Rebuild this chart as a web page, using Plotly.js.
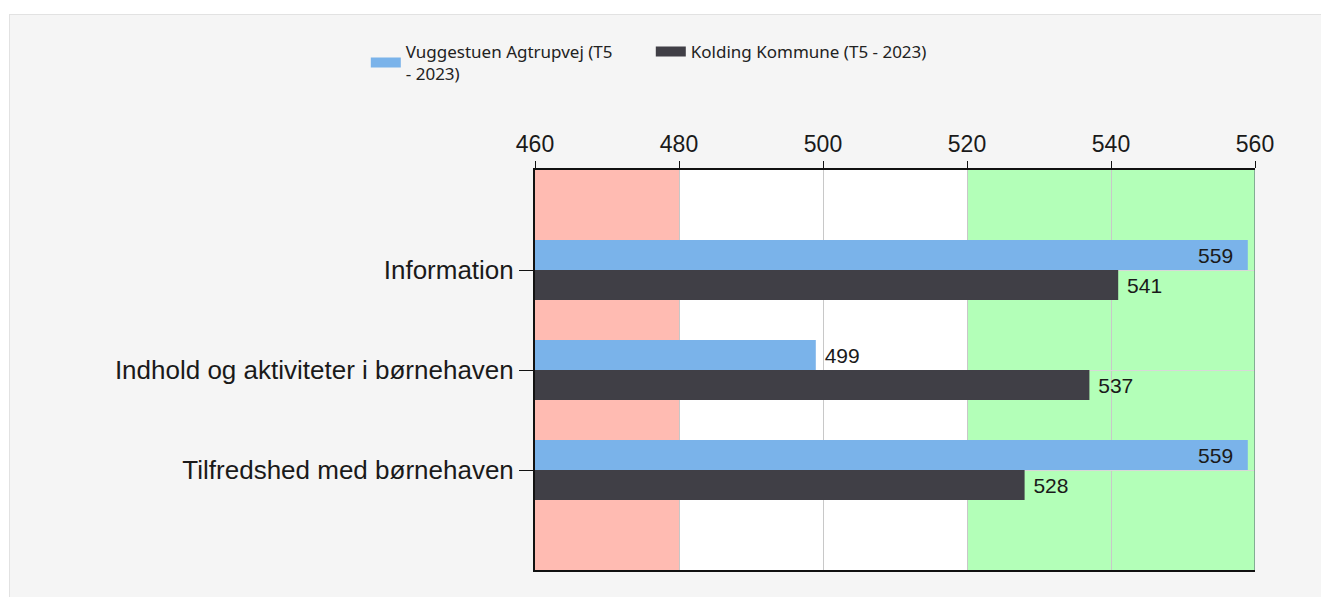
<!DOCTYPE html>
<html>
<head>
<meta charset="utf-8">
<script src="https://cdn.plot.ly/plotly-3.0.1.min.js"></script>
<style>
html,body{margin:0;padding:0;background:#fff;}
#panel{position:absolute;left:9px;top:14px;width:1312px;height:583px;background:#f5f5f5;border-left:1px solid #e2e2e2;border-top:1px solid #e2e2e2;box-sizing:border-box;}
#chart{position:absolute;left:0;top:0;width:1321px;height:597px;}
</style>
</head>
<body>
<div id="panel"></div>
<div id="chart"></div>
<script>
const categories = ["Information", "Indhold og aktiviteter i børnehaven", "Tilfredshed med børnehaven"];
const seriesNames = ["Vuggestuen Agtrupvej (T5<br>- 2023)", "Kolding Kommune (T5 - 2023)"];
const seriesColors = ["#7ab3ea", "#403f46"];
const vuggestuen = [559, 499, 559];
const kolding = [541, 537, 528];
const vugPositions = ["inside", "outside", "inside"];
const xTicks = [460, 480, 500, 520, 540, 560];
const redBand = [460, 480];
const greenBand = [520, 560];

const NB = "\u00a0";
const labelFont = {family: "Liberation Sans, Arial", size: 21, color: "#1a1a1a"};

function labelText(vals, positions) {
  return vals.map((v, i) => positions[i] === "inside" ? String(v) + NB + NB : NB + String(v));
}

const traces = [
  {
    type: "bar", orientation: "h", name: seriesNames[0], showlegend: false,
    y: categories, x: vuggestuen,
    marker: {color: seriesColors[0]},
    text: labelText(vuggestuen, vugPositions),
    textposition: vugPositions,
    insidetextanchor: "end",
    textfont: labelFont, outsidetextfont: labelFont, insidetextfont: labelFont,
    constraintext: "none",
    cliponaxis: false
  },
  {
    type: "bar", orientation: "h", name: seriesNames[1], showlegend: false,
    y: categories, x: kolding,
    marker: {color: seriesColors[1]},
    text: labelText(kolding, ["outside", "outside", "outside"]),
    textposition: "outside",
    textfont: labelFont, outsidetextfont: labelFont,
    constraintext: "none",
    cliponaxis: false
  },
  {
    type: "scatter", mode: "lines", name: seriesNames[0], x: [null], y: [null],
    line: {color: seriesColors[0], width: 16}, hoverinfo: "skip"
  },
  {
    type: "scatter", mode: "lines", name: seriesNames[1], x: [null], y: [null],
    line: {color: seriesColors[1], width: 16}, hoverinfo: "skip"
  }
];

const layout = {
  width: 1321, height: 597,
  paper_bgcolor: "rgba(0,0,0,0)",
  plot_bgcolor: "#ffffff",
  margin: {l: 535, r: 66, t: 170, b: 27},
  barmode: "group",
  bargap: 0.4,
  bargroupgap: 0,
  showlegend: true,
  legend: {
    orientation: "h", x: -0.235, y: 1.34, xanchor: "left", yanchor: "top",
    font: {family: "Noto Sans, Open Sans", size: 17, color: "#222"},
    bgcolor: "rgba(0,0,0,0)", traceorder: "normal",
    entrywidth: 240, entrywidthmode: "pixels", itemwidth: 30
  },
  xaxis: {
    side: "top", range: [460, 560], tickvals: xTicks, ticktext: xTicks.map(String),
    showgrid: true, gridcolor: "#c8c8c8", gridwidth: 1,
    zeroline: false,
    showline: true, linecolor: "#111", linewidth: 2, mirror: true,
    ticks: "outside", ticklen: 7, tickcolor: "#111", tickwidth: 1,
    tickfont: {family: "Liberation Sans, Arial", size: 23, color: "#1a1a1a"}
  },
  yaxis: {
    type: "category", autorange: false, range: [3, -1],
    showgrid: true, gridcolor: "#d8d8d8", gridwidth: 1,
    showline: true, linecolor: "#111", linewidth: 2, mirror: false,
    ticks: "outside", ticklen: 14, tickcolor: "#111",
    tickfont: {family: "Liberation Sans, Arial", size: 26, color: "#1a1a1a"}
  },
  shapes: [
    {type: "rect", layer: "below", xref: "x", yref: "paper", x0: redBand[0], x1: redBand[1], y0: 0, y1: 1,
     fillcolor: "#ffbbb2", line: {width: 0}},
    {type: "rect", layer: "below", xref: "x", yref: "paper", x0: greenBand[0], x1: greenBand[1], y0: 0, y1: 1,
     fillcolor: "#b3ffb8", line: {width: 0}},
    {type: "line", xref: "x", yref: "paper", x0: 560, x1: 560, y0: 0, y1: 1,
     line: {color: "#555a70", width: 1}}
  ]
};

Plotly.newPlot("chart", traces, layout, {displayModeBar: false, staticPlot: true});
</script>
</body>
</html>
